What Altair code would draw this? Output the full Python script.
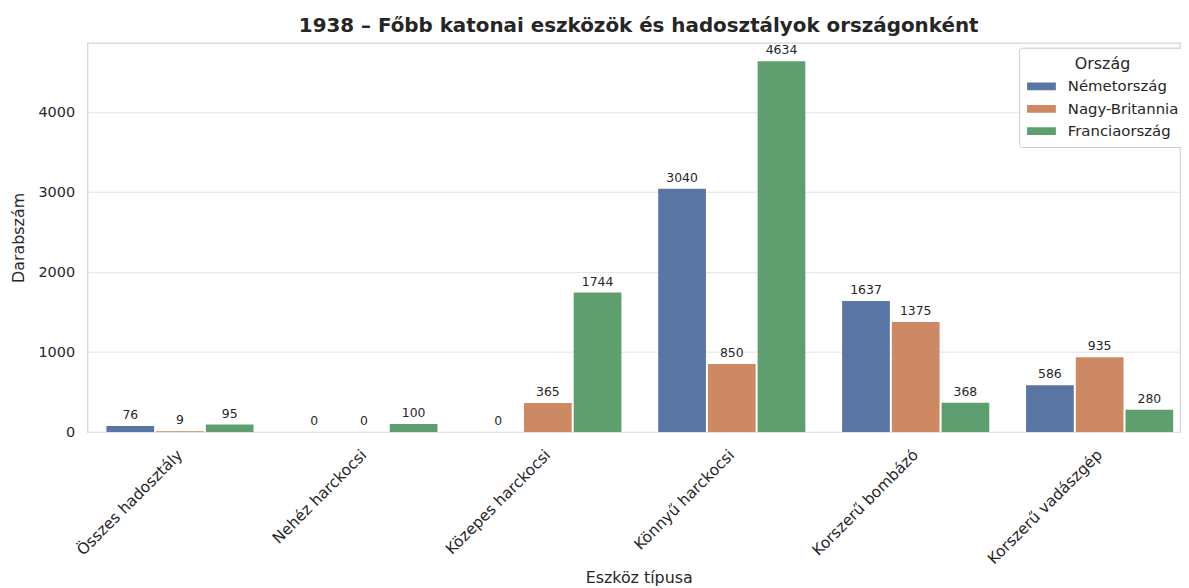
import altair as alt
import pandas as pd

categories = ["Összes hadosztály", "Nehéz harckocsi", "Közepes harckocsi",
              "Könnyű harckocsi", "Korszerű bombázó", "Korszerű vadászgép"]
countries = ["Németország", "Nagy-Britannia", "Franciaország"]
germany = [76, 0, 0, 3040, 1637, 586]
britain = [9, 0, 365, 850, 1375, 935]
france = [95, 100, 1744, 4634, 368, 280]
colors = ["#5975a4", "#cc8963", "#5f9e6e"]

rows = []
for series, name in zip([germany, britain, france], countries):
    for cat, v in zip(categories, series):
        rows.append({"Eszköz": cat, "Ország": name, "Érték": v})
df = pd.DataFrame(rows)

FONT = "DejaVu Sans"

x = alt.X("Eszköz:N", sort=categories,
          scale=alt.Scale(paddingInner=0.2, paddingOuter=0.07, align=0.736),
          axis=alt.Axis(title="Eszköz típusa", labelAngle=-45, labelAlign="right",
                        labelBaseline="middle", labelPadding=20, ticks=False,
                        domain=False, grid=False, labelFontSize=15.5,
                        labelColor="#262626", titleFontSize=16, titleColor="#262626",
                        titleFontWeight="normal", titleX=555, titleY=151,
                        titleBaseline="alphabetic", titleAlign="center"))
xo = alt.XOffset("Ország:N", sort=countries, scale=alt.Scale(paddingInner=0.04))
y = alt.Y("Érték:Q", scale=alt.Scale(domain=[0, 4866], nice=False),
          axis=alt.Axis(title="Darabszám", values=[0, 1000, 2000, 3000, 4000],
                        format="d", ticks=False, domain=False, grid=True,
                        gridColor="#e3e3e3", labelFontSize=14.5,
                        labelColor="#262626", labelPadding=13,
                        titleFontSize=16, titleColor="#262626",
                        titleFontWeight="normal", titleX=-61, titleY=196,
                        titleAlign="center"))

base = alt.Chart(df).encode(x=x, xOffset=xo, y=y)

bars = base.mark_bar().encode(
    color=alt.Color("Ország:N", sort=countries,
                    scale=alt.Scale(domain=countries, range=colors),
                    legend=alt.Legend(title="Ország", orient="none", legendX=938,
                                      legendY=5, strokeColor="#cccccc",
                                      fillColor="white", padding=8, cornerRadius=3,
                                      titleFontSize=16, titleFontWeight="normal",
                                      titleColor="#262626", titleAnchor="middle",
                                      labelFontSize=15, labelColor="#262626",
                                      symbolType="M-1,-0.27H1V0.27H-1Z",
                                      symbolSize=841, symbolStrokeWidth=0,
                                      symbolOpacity=1, clipHeight=16,
                                      rowPadding=6.5, labelOffset=12,
                                      titlePadding=7))
)

labels = base.mark_text(baseline="bottom", dy=-4, fontSize=12.5,
                        color="#262626", font=FONT).encode(text="Érték:Q")

chart = (bars + labels).properties(
    width=1100, height=392,
    autosize=alt.AutoSizeParams(type="none"),
    padding={"left": 80, "top": 33, "right": 1, "bottom": 155},
    title=alt.TitleParams("1938 – Főbb katonai eszközök és hadosztályok országonként",
                          fontSize=20, fontWeight="bold", color="#262626",
                          offset=7, dx=5, anchor="middle"),
).configure(font=FONT).configure_view(stroke="#d5d5d5", strokeWidth=1.2)

chart.save("out.html", embed_options={"renderer": "svg", "actions": False})
